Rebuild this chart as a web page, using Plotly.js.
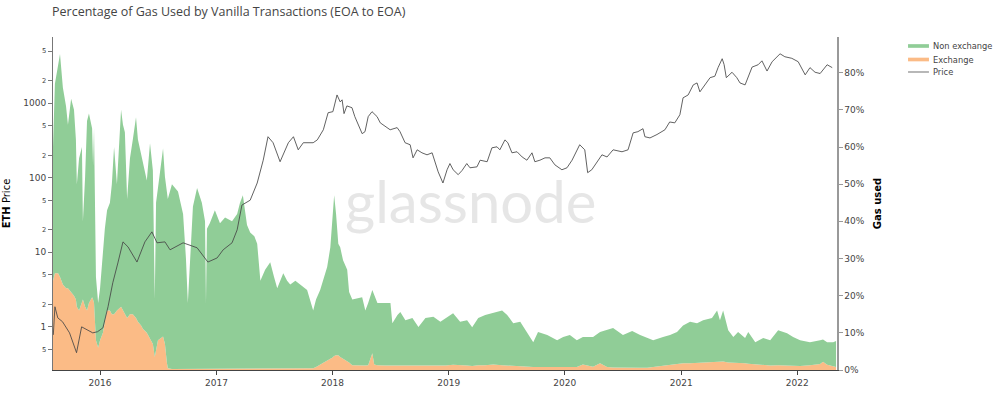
<!DOCTYPE html>
<html>
<head>
<meta charset="utf-8">
<script src="https://cdn.plot.ly/plotly-3.0.1.min.js"></script>
<style>
  html, body { margin: 0; padding: 0; background: #fff; }
  #chart { width: 1000px; height: 394px; }
</style>
</head>
<body>
<div id="chart"></div>
<script>
// ---- Data ----
var areaDates = [
"2015-08-06","2015-08-12","2015-08-22","2015-08-28","2015-09-06","2015-09-16","2015-09-22","2015-10-02","2015-10-11","2015-10-17",
"2015-10-20","2015-10-27","2015-11-05","2015-11-08","2015-11-15","2015-11-21","2015-11-27","2015-12-07","2015-12-10","2015-12-13",
"2015-12-19","2015-12-26","2016-01-01","2016-01-10","2016-01-16","2016-01-23","2016-02-01","2016-02-07","2016-02-14","2016-02-23",
"2016-03-07","2016-03-13","2016-03-19","2016-03-26","2016-04-04","2016-04-13","2016-04-23","2016-04-29","2016-05-09","2016-05-15",
"2016-05-27","2016-06-06","2016-06-15","2016-06-21","2016-06-25","2016-07-01","2016-07-17","2016-07-23","2016-07-29","2016-08-01",
"2016-08-14","2016-08-23","2016-09-02","2016-09-18","2016-09-27","2016-10-03","2016-10-10","2016-10-19","2016-11-01","2016-11-16",
"2016-11-26","2016-11-29","2016-12-02","2016-12-11","2016-12-27","2017-01-12","2017-01-28","2017-02-19","2017-03-07","2017-03-16",
"2017-03-25","2017-04-07","2017-04-17","2017-04-30","2017-05-09","2017-05-19","2017-06-03","2017-06-19","2017-07-01","2017-07-11",
"2017-07-30","2017-08-11","2017-08-21","2017-09-06","2017-09-21","2017-10-13","2017-11-01","2017-11-10","2017-11-23","2017-12-06",
"2017-12-15","2017-12-25","2017-12-31","2018-01-06","2018-01-12","2018-01-19","2018-01-25","2018-02-03","2018-02-16","2018-02-22",
"2018-03-04","2018-03-20","2018-04-04","2018-04-14","2018-04-23","2018-05-06","2018-05-12","2018-05-22","2018-06-16","2018-07-02",
"2018-07-08","2018-07-24","2018-08-02","2018-08-18","2018-09-09","2018-09-28","2018-10-20","2018-11-14","2018-12-06","2018-12-22",
"2019-01-15","2019-02-06","2019-02-28","2019-03-16","2019-04-04","2019-04-26","2019-05-21","2019-06-18","2019-07-04","2019-07-23",
"2019-08-14","2019-09-05","2019-09-24","2019-10-09","2019-11-07","2019-12-08","2019-12-27","2020-01-17","2020-02-08","2020-02-27",
"2020-03-30","2020-04-21","2020-05-13","2020-06-01","2020-07-02","2020-07-31","2020-08-25","2020-09-16","2020-10-05","2020-11-05",
"2020-11-27","2020-12-19","2021-01-07","2021-01-29","2021-02-20","2021-03-11","2021-04-08","2021-04-24","2021-05-03","2021-05-13",
"2021-05-29","2021-06-14","2021-06-29","2021-07-21","2021-07-31","2021-08-22","2021-09-16","2021-10-08","2021-11-02","2021-11-30",
"2021-12-19","2022-01-10","2022-02-10","2022-03-14","2022-03-23","2022-04-05","2022-04-24","2022-05-03"
];
// Gas used share (%) by exchange-related vanilla transactions
var exchange = [
24,26,26,25,23,22,22,21,20,19,
17,16,18,19,17,16,18,19.6,19,18,
8,6,8,10,13,16,16,15,15,16,
17,16,15,14,15,15,14,13,12,11,
10,8.5,7,3.5,5,8,9,7,2,0.5,
0.3,0.3,0.3,0.3,0.3,0.3,0.3,0.3,0.3,0.3,
0.3,0.3,0.3,0.3,0.3,0.3,0.3,0.3,0.3,0.3,
0.3,0.3,0.3,0.3,0.3,0.3,0.3,0.3,0.3,0.3,
0.3,0.3,0.3,0.3,0.3,0.3,0.5,0.8,1.5,2,
2.5,3,3.3,3.8,4,4,3.5,3,2.5,2,
1.3,1.2,1.2,1.2,1.3,4.5,1.5,1.3,1.2,1.2,
1.1,1.2,1.2,1.2,1.3,1.2,1.3,1.3,1.2,1.2,
1.4,1.2,1.2,1.1,1.3,1.3,1.5,1.3,1.2,1.1,
1,0.9,0.8,0.8,0.8,0.7,0.7,0.8,0.8,1.5,
0.9,1.8,0.8,0.7,0.6,0.6,0.6,0.6,0.8,1.2,
1.4,1.6,1.8,1.8,1.9,2,2.2,2.3,2.2,2.3,
2,2,2,1.8,1.7,1.5,1.3,1.2,1.3,1.2,
1.1,1.1,1.3,1.6,2.2,1.4,1,0.8
];
// Gas used share (%) by non-exchange vanilla transactions
var nonExchange = [
36,51,56,60,53,49,44,52,50,43,
33,41,42,21,35,51,51,45.4,36,47,
17,12,14,22,25,27,29,35,45,34,
53,50,49,32,42,47,54,49,46,44.6,
41,52.5,46.7,15.5,40,41,50.6,45,46,45.5,
49.7,48.7,47.7,41.7,29.7,17.7,29.7,43.7,48.7,44.7,
39.7,17.7,37.7,39.2,42.7,39.2,40.7,39.7,41.7,44.7,
46.7,38.7,36.7,35.7,33.7,23.7,26.7,28.7,24.7,21.7,
25.7,23.7,22.7,23.7,22.7,21.2,15.5,18.2,20,23,
25.2,30,36.7,43.2,38,30,29.5,26.5,24.5,19,
17.7,18.1,18.4,14.8,16.7,17,18.5,16.7,16.8,16.8,
11.5,13.6,14.4,12.2,12.7,10.4,12.7,13,11.8,12.8,
13.9,11.8,12.2,10.4,12.7,13.5,13.8,14.7,13.6,11.5,
12,9.3,6.7,9.4,8.6,7.3,8.2,8.6,7.2,7.4,
8,8.4,9.9,10.6,8.8,9.9,8.8,8,7.2,7.7,
8,8.6,10.2,11.2,10.7,11.4,11.8,13.7,11.2,13.7,
8.7,6.9,8.2,6.8,8.5,6,7.3,6.8,9.4,8.7,
7.8,6.9,6.2,6.4,6,6.1,6.5,7
];
var priceDates = [
"2015-08-07","2015-08-12","2015-08-21","2015-09-05","2015-09-27","2015-10-19","2015-11-04","2015-11-20","2015-12-09","2015-12-24",
"2016-01-10","2016-01-26","2016-02-10","2016-02-26","2016-03-13","2016-03-29","2016-04-26","2016-05-21","2016-06-12","2016-06-28",
"2016-07-23","2016-08-08","2016-09-18","2016-11-01","2016-12-05","2017-01-03","2017-01-22","2017-02-19","2017-03-07","2017-03-22",
"2017-04-17","2017-05-09","2017-05-28","2017-06-12","2017-06-28","2017-07-20","2017-07-30","2017-08-15","2017-08-31","2017-09-15",
"2017-10-01","2017-11-01","2017-11-14","2017-12-03","2017-12-18","2018-01-02","2018-01-15","2018-01-25","2018-01-31","2018-02-06",
"2018-02-15","2018-03-03","2018-03-12","2018-03-22","2018-04-04","2018-04-13","2018-04-23","2018-05-05","2018-05-21","2018-05-31",
"2018-06-15","2018-07-01","2018-07-23","2018-08-01","2018-08-17","2018-09-02","2018-09-11","2018-09-24","2018-10-09","2018-10-25",
"2018-11-10","2018-11-19","2018-11-29","2018-12-14","2018-12-27","2019-01-05","2019-01-15","2019-01-31","2019-02-12","2019-02-27",
"2019-03-09","2019-03-31","2019-04-10","2019-05-02","2019-05-17","2019-06-02","2019-06-11","2019-06-27","2019-07-06","2019-07-19",
"2019-08-04","2019-08-20","2019-09-04","2019-09-20","2019-09-29","2019-10-15","2019-10-31","2019-11-15","2019-12-01","2019-12-23",
"2020-01-08","2020-01-24","2020-02-08","2020-02-17","2020-03-04","2020-03-13","2020-03-26","2020-04-11","2020-04-27","2020-05-13",
"2020-06-01","2020-06-29","2020-07-18","2020-08-03","2020-08-18","2020-09-03","2020-09-09","2020-09-25","2020-10-17","2020-11-11",
"2020-11-26","2020-12-12","2020-12-28","2021-01-07","2021-01-23","2021-02-08","2021-02-20","2021-03-01","2021-03-17","2021-04-02",
"2021-04-17","2021-04-27","2021-05-10","2021-05-16","2021-05-23","2021-06-10","2021-06-25","2021-07-05","2021-07-21","2021-08-12",
"2021-08-31","2021-09-12","2021-09-28","2021-10-14","2021-11-08","2021-11-23","2021-12-15","2022-01-04","2022-01-26","2022-02-10",
"2022-02-26","2022-03-14","2022-04-05","2022-04-21"
];
var price = [
0.78,1.86,1.32,1.17,0.83,0.45,1.0,0.91,0.83,0.86,
0.97,1.86,3.9,7.2,13.8,11.8,7.4,13.8,18.8,13.4,
13.8,10.8,13.4,11.5,7.4,8.4,10.8,13.4,20,43,
50,85,172,355,295,164,203,295,355,237,
295,295,322,440,745,770,1290,1040,1110,725,
920,870,660,515,390,415,660,770,660,545,
485,440,470,415,295,277,185,237,216,203,
216,164,120,85,128,155,128,110,125,155,
136,140,172,164,252,260,237,322,295,216,
223,190,172,216,164,172,185,185,149,128,
136,172,237,277,237,117,128,164,203,190,
237,223,237,400,415,455,355,342,380,440,
560,545,700,1180,1290,1760,1870,1420,1760,2200,
2300,3000,3950,3300,2200,2600,2200,1870,1760,3050,
3280,3700,2700,3600,4600,4200,4000,3600,2400,3000,
2600,2500,3280,3000
];
var seriesNames = ["Non exchange", "Exchange", "Price"];
var titleText = "Percentage of Gas Used by Vanilla Transactions (EOA to EOA)";

var greenCol = "#90cd97";
var orangeCol = "#fbbb86";
var priceCol = "rgba(70,70,70,0.85)";

var traces = [
  {
    name: seriesNames[1], x: areaDates, y: exchange, type: "scatter", mode: "lines",
    stackgroup: "gas", line: {width: 0, color: orangeCol}, fillcolor: orangeCol,
    yaxis: "y", hoverinfo: "skip"
  },
  {
    name: seriesNames[0], x: areaDates, y: nonExchange, type: "scatter", mode: "lines",
    stackgroup: "gas", line: {width: 0, color: greenCol}, fillcolor: greenCol,
    yaxis: "y", hoverinfo: "skip"
  },
  {
    name: seriesNames[2], x: priceDates, y: price, type: "scatter", mode: "lines",
    line: {width: 1, color: priceCol}, yaxis: "y2"
  }
];

// custom compact legend (paper coordinates)
var legX0 = 1.0906, legX1 = 1.1173, legTx = 1.1199;
var legY = [0.973, 0.9324, 0.8949];
var shapes = [
  {type: "rect", xref: "paper", yref: "paper", x0: legX0, x1: legX1, y0: legY[0] - 0.0055, y1: legY[0] + 0.0055, fillcolor: greenCol, line: {width: 0}},
  {type: "rect", xref: "paper", yref: "paper", x0: legX0, x1: legX1, y0: legY[1] - 0.0055, y1: legY[1] + 0.0055, fillcolor: orangeCol, line: {width: 0}},
  {type: "line", xref: "paper", yref: "paper", x0: legX0, x1: legX1, y0: legY[2], y1: legY[2], line: {width: 1.2, color: "#888"}}
];
var annotations = [
  {
    text: "glassnode", xref: "paper", yref: "paper", x: 0.533, y: 0.51,
    xanchor: "center", yanchor: "middle", showarrow: false,
    font: {family: "Lato", size: 58, color: "rgba(200,200,200,0.45)"}
  },
  {
    text: titleText, xref: "paper", yref: "paper", x: -0.004, y: 1.108,
    xanchor: "left", yanchor: "top", showarrow: false,
    font: {family: "Open Sans", size: 12.5, color: "#444"}
  }
];
for (var i = 0; i < seriesNames.length; i++) {
  annotations.push({
    text: seriesNames[i], xref: "paper", yref: "paper", x: legTx, y: legY[i],
    xanchor: "left", yanchor: "middle", showarrow: false,
    font: {family: "DejaVu Sans", size: 8.3, color: "#444"}
  });
}

var layout = {
  width: 1000, height: 394,
  margin: {l: 53, r: 163, t: 37, b: 24, pad: 0, autoexpand: false},
  paper_bgcolor: "#fff", plot_bgcolor: "#fff",
  font: {family: "DejaVu Sans", size: 9, color: "#444"},
  showlegend: false,
  xaxis: {
    type: "date", range: ["2015-08-06", "2022-05-06"],
    showgrid: false, zeroline: false, automargin: false,
    showline: true, linecolor: "#444", linewidth: 1,
    ticks: "outside", ticklen: 4, tickcolor: "#444",
    tick0: "2016-01-01", dtick: "M12", tickformat: "%Y"
  },
  yaxis: {
    side: "right", range: [0, 89.6], dtick: 10, ticksuffix: "%",
    showgrid: false, zeroline: false, automargin: false,
    showline: true, linecolor: "#999", linewidth: 1.5,
    ticks: "outside", ticklen: 4, tickcolor: "#999",
    title: {text: "<b>Gas used</b>", font: {size: 10, color: "#000"}, standoff: 10}
  },
  yaxis2: {
    type: "log", overlaying: "y", side: "left",
    range: [-0.579, 3.888], dtick: "D2", automargin: false,
    showgrid: false, zeroline: false,
    showline: true, linecolor: "#777", linewidth: 1,
    ticks: "outside", ticklen: 4, tickcolor: "#777",
    title: {text: "<b>ETH</b> Price", font: {size: 10, color: "#000"}, standoff: 10}
  },
  shapes: shapes,
  annotations: annotations
};

Plotly.newPlot("chart", traces, layout, {displayModeBar: false, staticPlot: true});
</script>
</body>
</html>
